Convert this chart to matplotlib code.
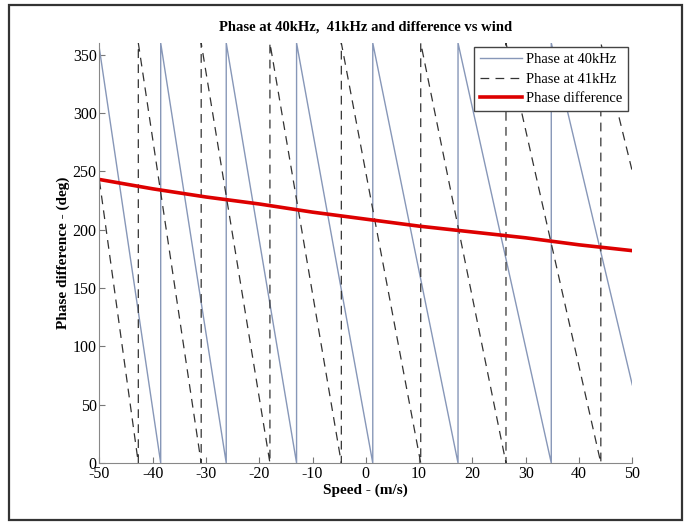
import matplotlib
matplotlib.use("Agg")
import matplotlib.pyplot as plt
from matplotlib.patches import Rectangle

# Speeds (m/s) where each phase wraps from 0 back to 360 deg
wrap_40k = [-38.5, -26.2, -13.0, 1.3, 17.3, 34.8]
wrap_41k = [-42.7, -30.9, -18.0, -4.6, 10.3, 26.3, 44.1]
# phase at the ends of the speed range
x_range = [-50, 50]
ends_40k = [355, 67]
ends_41k = [242, 250]

# Phase difference read at every 10 m/s
diff_speed = [-50, -40, -30, -20, -10, 0, 10, 20, 30, 40, 50]
diff_deg = [243, 235, 228, 222, 215, 209, 203, 198, 193, 187, 182]


def sawtooth(wraps, ends):
    xs = [x_range[0]]
    ys = [ends[0]]
    for w in wraps:
        xs += [w, w]
        ys += [0, 360]
    xs.append(x_range[1])
    ys.append(ends[1])
    return xs, ys


plt.rcParams["font.family"] = ["Liberation Serif", "DejaVu Serif"]
plt.rcParams["axes.unicode_minus"] = False

fig = plt.figure(figsize=(6.88, 5.24), dpi=100)
ax = fig.add_axes([0.1445, 0.1164, 0.7745, 0.8016])

x40, y40 = sawtooth(wrap_40k, ends_40k)
x41, y41 = sawtooth(wrap_41k, ends_41k)
ax.plot(x40, y40, color="#8797b8", lw=1.0, label="Phase at 40kHz")
ax.plot(x41, y41, color="#333333", lw=0.9, ls=(0, (7, 5)), label="Phase at 41kHz")
ax.plot(diff_speed, diff_deg, color="#dd0000", lw=2.6, label="Phase difference")

ax.set_xlim(-50, 50)
ax.set_ylim(0, 360)
ax.set_xticks(range(-50, 51, 10))
ax.set_yticks(range(0, 351, 50))
ax.tick_params(direction="in", length=4, color="#777777", labelsize=11.5, pad=2)
for s in ["top", "right"]:
    ax.spines[s].set_visible(False)
for s in ["left", "bottom"]:
    ax.spines[s].set_color("#888888")

ax.set_title("Phase at 40kHz,  41kHz and difference vs wind", fontsize=10.5,
             fontweight="bold", pad=9)
ax.set_xlabel("Speed - (m/s)", fontsize=11, fontweight="bold", labelpad=1)
ax.set_ylabel("Phase difference - (deg)", fontsize=11, fontweight="bold", labelpad=2)

leg = ax.legend(loc="upper right", fontsize=10.5, fancybox=False, framealpha=1,
                edgecolor="#444444", borderaxespad=0.3, handlelength=2.9,
                labelspacing=0.42, borderpad=0.4, handletextpad=0.25)
leg.get_frame().set_linewidth(1.0)

fig.patches.append(Rectangle((9 / 688, 4 / 524), 673 / 688, 515 / 524,
                             transform=fig.transFigure, fill=False,
                             edgecolor="#333333", lw=1.6))

fig.savefig("out.png", dpi=100, facecolor="white")
